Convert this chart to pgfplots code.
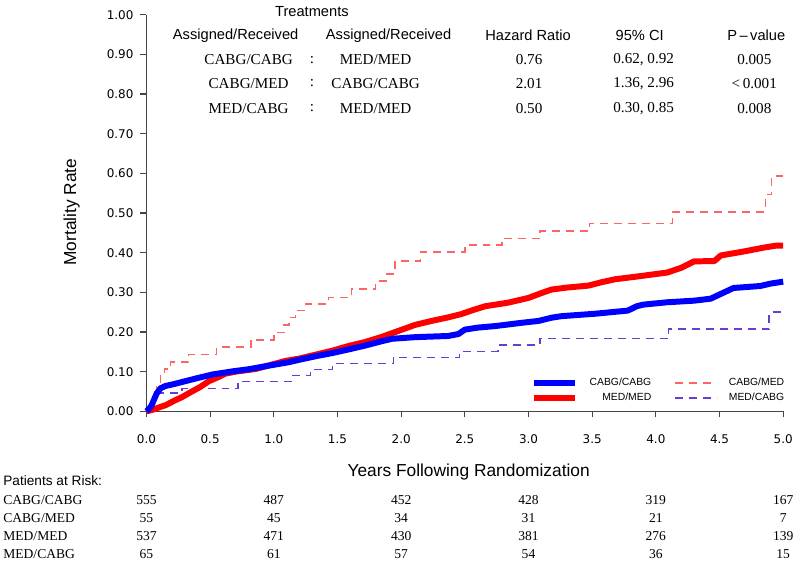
\documentclass[border=0pt]{standalone}
\usepackage{pgfplots}
\pgfplotsset{compat=1.18}
\usepackage{fontspec}
\setmainfont{Liberation Sans}
\newfontfamily\serifff{Liberation Serif}
\newfontfamily\dejavu{DejaVu Sans}
\definecolor{cblue}{RGB}{0,0,255}
\definecolor{cred}{RGB}{255,0,0}
\definecolor{cltred}{RGB}{255,100,100}
\definecolor{cpurple}{RGB}{105,60,210}
\definecolor{axgray}{RGB}{70,70,70}
\newcommand\hdr{\fontsize{7.35}{8}\selectfont}
\newcommand\rowf{\serifff\fontsize{7.6}{8}\selectfont}
\newcommand\riskf{\serifff\fontsize{6.8}{7}\selectfont}

\pgfplotstableread{
x y
0 0
0.02 0.006
0.04 0.015
0.06 0.030
0.08 0.045
0.11 0.058
0.15 0.064
0.22 0.069
0.28 0.074
0.39 0.083
0.52 0.093
0.68 0.101
0.80 0.106
0.94 0.114
1.12 0.124
1.20 0.130
1.33 0.139
1.46 0.147
1.60 0.157
1.72 0.166
1.85 0.177
1.93 0.183
2.11 0.187
2.37 0.190
2.45 0.195
2.50 0.206
2.60 0.211
2.74 0.215
2.94 0.223
3.08 0.228
3.18 0.236
3.26 0.240
3.52 0.246
3.78 0.254
3.85 0.265
3.90 0.269
4.09 0.275
4.30 0.279
4.43 0.284
4.51 0.296
4.61 0.311
4.82 0.316
4.90 0.322
5.00 0.327
}\cabgcabg

\pgfplotstableread{
x y
0 0
0.05 0.004
0.10 0.010
0.154 0.016
0.22 0.027
0.28 0.036
0.34 0.047
0.42 0.061
0.49 0.076
0.57 0.087
0.62 0.095
0.70 0.100
0.86 0.107
0.94 0.114
1.09 0.127
1.20 0.133
1.33 0.143
1.46 0.153
1.59 0.165
1.72 0.175
1.85 0.188
1.98 0.203
2.11 0.218
2.24 0.228
2.37 0.237
2.47 0.245
2.57 0.256
2.66 0.265
2.84 0.274
3.00 0.286
3.10 0.298
3.18 0.307
3.30 0.312
3.47 0.317
3.58 0.326
3.68 0.333
3.88 0.341
4.09 0.350
4.20 0.362
4.30 0.378
4.46 0.379
4.51 0.393
4.69 0.403
4.85 0.413
4.95 0.418
5.00 0.418
}\medmed

\pgfplotstableread{
x y
0 0
0.02 0.020
0.05 0.045
0.08 0.070
0.11 0.090
0.14 0.107
0.19 0.124
0.33 0.143
0.55 0.162
0.82 0.180
1.00 0.199
1.08 0.218
1.12 0.237
1.17 0.254
1.25 0.270
1.43 0.287
1.61 0.308
1.80 0.329
1.88 0.346
1.95 0.379
2.15 0.402
2.50 0.419
2.79 0.436
3.09 0.455
3.48 0.474
4.13 0.503
4.86 0.547
4.91 0.593
5.00 0.593
}\cabgmed

\pgfplotstableread{
x y
0 0
0.02 0.015
0.05 0.030
0.09 0.046
0.28 0.057
0.72 0.075
1.14 0.090
1.29 0.105
1.46 0.120
1.94 0.136
2.46 0.151
2.76 0.167
3.09 0.183
4.10 0.208
4.89 0.250
5.00 0.250
}\medcabg

\begin{document}
\begin{tikzpicture}
\begin{scope}[x=0.5pt,y=-0.5pt,shift={(-73.5pt,205.5pt)}]
\path[use as bounding box] (0,0) rectangle (800,569);
\end{scope}
\begin{axis}[
  at={(0,0)}, anchor=south west,
  scale only axis, width=319.5pt, height=199pt,
  xmin=0, xmax=5, ymin=0, ymax=1,
  axis lines=left, axis line style={-, axgray, line width=0.75pt},
  tick style={axgray, line width=0.6pt},
  tick align=outside, major tick length=3pt,
  xtick={0,0.5,...,5}, ytick={0,0.1,...,1},
  minor tick num=0,
  /pgf/number format/assume math mode=true,
  xticklabel style={font=\dejavu\fontsize{6}{7}\selectfont, yshift=-5pt,
    /pgf/number format/fixed, /pgf/number format/fixed zerofill, /pgf/number format/precision=1},
  yticklabel style={font=\dejavu\fontsize{6}{7}\selectfont,
    /pgf/number format/fixed, /pgf/number format/fixed zerofill, /pgf/number format/precision=2},
  xlabel={Years Following Randomization},
  ylabel={Mortality Rate},
  label style={font=\fontsize{8.7}{10}\selectfont},
  xlabel style={at={(axis description cs:0.506,-0.153)}, anchor=center},
  ylabel style={at={(axis description cs:-0.1174,0.5025)}, anchor=center},
  clip=false,
  legend columns=2,
  legend cell align=right,
  legend image code/.code={\draw[#1] (0pt,0pt) -- (21pt,0pt);},
  legend style={draw=none, fill=none, font=\fontsize{5.2}{6}\selectfont,
    at={(axis cs:5.02,0.016)}, anchor=south east, inner sep=0pt,
    row sep=1.2pt,
    nodes={inner sep=0.6pt},
    /tikz/every odd column/.append style={column sep=5pt},
    /tikz/every even column/.append style={column sep=11pt}},
]
\addplot[const plot, cltred, line width=0.75pt, dash pattern=on 4pt off 3pt, forget plot] table {\cabgmed};
\addplot[const plot, cpurple, line width=0.75pt, dash pattern=on 4pt off 3pt, forget plot] table {\medcabg};
\addplot[cred, line width=3pt, line join=round, forget plot] table {\medmed};
\addplot[cblue, line width=3pt, line join=round, forget plot] table {\cabgcabg};
\addlegendimage{cblue, line width=3pt}
\addlegendentry{CABG/CABG}
\addlegendimage{cltred, line width=0.75pt, dash pattern=on 4pt off 3pt}
\addlegendentry{CABG/MED}
\addlegendimage{cred, line width=3pt}
\addlegendentry{MED/MED}
\addlegendimage{cpurple, line width=0.75pt, dash pattern=on 4pt off 3pt}
\addlegendentry{MED/CABG}
\end{axis}
\begin{scope}[x=0.5pt,y=-0.5pt,shift={(-73.5pt,205.5pt)}]
% header table
\node[font=\hdr] at (313,10) {Treatments};
\node[font=\hdr] at (236.5,34) {Assigned/Received};
\node[font=\hdr] at (390,34) {Assigned/Received};
\node[font=\hdr] at (530,34) {Hazard Ratio};
\node[font=\hdr] at (642,34) {95\% CI};
\node[font=\hdr] at (759,34) {P\,–\,value};
\foreach \y/\a/\b/\h/\c/\p in {58/CABG\slash CABG/MED\slash MED/0.76/{0.62, 0.92}/0.005,
  82/CABG\slash MED/CABG\slash CABG/2.01/{1.36, 2.96}/{<\,0.001},
  107/MED\slash CABG/MED\slash MED/0.50/{0.30, 0.85}/0.008}{
  \node[font=\rowf] at (249.5,\y) {\a};
  \node[font=\rowf] at (313,\y) {:};
  \node[font=\rowf] at (377,\y) {\b};
  \node[font=\rowf] at (531,\y) {\h};
  \node[font=\rowf] at (646,\y) {\c};
  \node[font=\rowf] at (757,\y) {\p};
}
% patients at risk
\node[font=\fontsize{6.85}{8}\selectfont, anchor=west, inner sep=0pt] at (3,481) {Patients at Risk:};
\foreach \y/\lab/\na/\nb/\nc/\nd/\ne/\nf in {
  500/CABG\slash CABG/555/487/452/428/319/167,
  518/CABG\slash MED/55/45/34/31/21/7,
  536/MED\slash MED/537/471/430/381/276/139,
  554/MED\slash CABG/65/61/57/54/36/15}{
  \node[font=\riskf, anchor=west, inner sep=0pt] at (3,\y) {\lab};
  \node[font=\riskf] at (147,\y) {\na};
  \node[font=\riskf] at (274.8,\y) {\nb};
  \node[font=\riskf] at (402.6,\y) {\nc};
  \node[font=\riskf] at (530.4,\y) {\nd};
  \node[font=\riskf] at (658.2,\y) {\ne};
  \node[font=\riskf] at (786,\y) {\nf};
}
\end{scope}
\end{tikzpicture}
\end{document}
